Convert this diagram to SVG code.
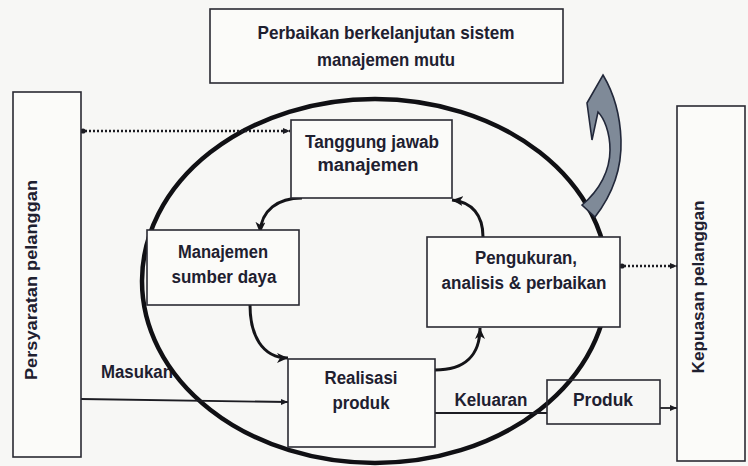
<svg xmlns="http://www.w3.org/2000/svg" width="748" height="466" viewBox="0 0 748 466">
<defs>
<style>
.box{fill:#fbfbf9;stroke:#2a2a32;stroke-width:1.6}
.t{font-family:"Liberation Sans",Arial,sans-serif;font-weight:bold;font-size:18px;fill:#1e2030;text-anchor:middle}
.big{font-size:19px}
.r17{font-size:17px}
.r16{font-size:16px}
.con{fill:none;stroke:#141418;stroke-width:3}
.thin{fill:none;stroke:#1c1c22;stroke-width:1.8}
.dot{fill:none;stroke:#1c1c22;stroke-width:2.4;stroke-dasharray:2 2}
</style>
<marker id="ah" markerUnits="userSpaceOnUse" markerWidth="12" markerHeight="10" refX="11" refY="5" orient="auto">
<path d="M0,0 L11,5 L0,10 L3,5 z" fill="#141418"/>
</marker>
<marker id="sa" markerUnits="userSpaceOnUse" markerWidth="8" markerHeight="8" refX="7" refY="4" orient="auto">
<path d="M0,1 L7,4 L0,7 z" fill="#1c1c22"/>
</marker>
</defs>
<rect width="748" height="466" fill="#f7f7f5"/>

<g id="connectors">
<text class="t" x="137" y="378" textLength="72" lengthAdjust="spacingAndGlyphs">Masukan</text>
<ellipse cx="375" cy="281" rx="233" ry="182" fill="none" stroke="#101014" stroke-width="4.5"/>
<line class="dot" x1="81" y1="131" x2="290" y2="131" marker-end="url(#sa)"/>
<circle cx="83" cy="131" r="2.6" fill="#1c1c22"/>
<line class="dot" x1="620" y1="266" x2="677" y2="266" marker-end="url(#sa)"/>
<circle cx="622" cy="266" r="2.6" fill="#1c1c22"/>
<line class="thin" x1="81" y1="399" x2="288" y2="402" marker-end="url(#sa)"/>
<line class="thin" x1="435" y1="413" x2="547" y2="413"/>
<line class="thin" x1="660" y1="408" x2="677" y2="408" marker-end="url(#sa)"/>
<path class="con" d="M302,198 C278,198 261,210 260,233" marker-end="url(#ah)"/>
<path class="con" d="M250,305 C250,335 262,358 288,358" marker-end="url(#ah)"/>
<path class="con" d="M435,370 C465,370 480,355 480,328" marker-end="url(#ah)"/>
<path class="con" d="M483,237 C483,215 472,202 452,200" marker-end="url(#ah)"/>
<path d="M603,75 C612,90 620,110 621,140 C622,170 612,195 595,217 L582,205 C600,190 610,170 610,150 C610,132 604,118 598,112 L592,140 L587,103 Z" fill="#7f8a98" stroke="#22283a" stroke-width="1.6"/>
<text class="t" x="491" y="406" textLength="73" lengthAdjust="spacingAndGlyphs">Keluaran</text>
</g>

<g id="top">
<rect class="box" x="210" y="9" width="353" height="74"/>
<text class="t big" x="386" y="39" textLength="257" lengthAdjust="spacingAndGlyphs">Perbaikan berkelanjutan sistem</text>
<text class="t big" x="386" y="66" textLength="138" lengthAdjust="spacingAndGlyphs">manajemen mutu</text>
</g>

<g id="persyaratan">
<rect class="box" x="13" y="92" width="68" height="365"/>
<text class="t r17" transform="translate(37,280) rotate(-90)" x="0" y="0" textLength="200" lengthAdjust="spacingAndGlyphs">Persyaratan pelanggan</text>
</g>

<g id="kepuasan">
<rect class="box" x="677" y="106" width="68" height="355"/>
<text class="t r16" transform="translate(704,287) rotate(-90)" x="0" y="0" textLength="173" lengthAdjust="spacingAndGlyphs">Kepuasan pelanggan</text>
</g>

<g id="tanggung">
<rect class="box" x="291" y="120" width="161" height="78"/>
<text class="t" x="372" y="148" textLength="134" lengthAdjust="spacingAndGlyphs">Tanggung jawab</text>
<text class="t" x="368" y="171" textLength="101" lengthAdjust="spacingAndGlyphs">manajemen</text>
</g>

<g id="sumberdaya">
<rect class="box" x="147" y="230" width="152" height="75"/>
<text class="t" x="223" y="258" textLength="90" lengthAdjust="spacingAndGlyphs">Manajemen</text>
<text class="t" x="224" y="283" textLength="105" lengthAdjust="spacingAndGlyphs">sumber daya</text>
</g>

<g id="pengukuran">
<rect class="box" x="427" y="237" width="193" height="90"/>
<text class="t" x="526" y="264" textLength="102" lengthAdjust="spacingAndGlyphs">Pengukuran,</text>
<text class="t" x="524" y="289" textLength="165" lengthAdjust="spacingAndGlyphs">analisis &amp; perbaikan</text>
</g>

<g id="realisasi">
<rect class="box" x="288" y="359" width="147" height="88"/>
<text class="t" x="361" y="384" textLength="73" lengthAdjust="spacingAndGlyphs">Realisasi</text>
<text class="t" x="361" y="409" textLength="57" lengthAdjust="spacingAndGlyphs">produk</text>
</g>

<g id="produk">
<rect x="547" y="380" width="113" height="44" fill="none" stroke="#2a2a32" stroke-width="1.6"/>
<text class="t" x="603" y="406" textLength="60" lengthAdjust="spacingAndGlyphs">Produk</text>
</g>
</svg>
